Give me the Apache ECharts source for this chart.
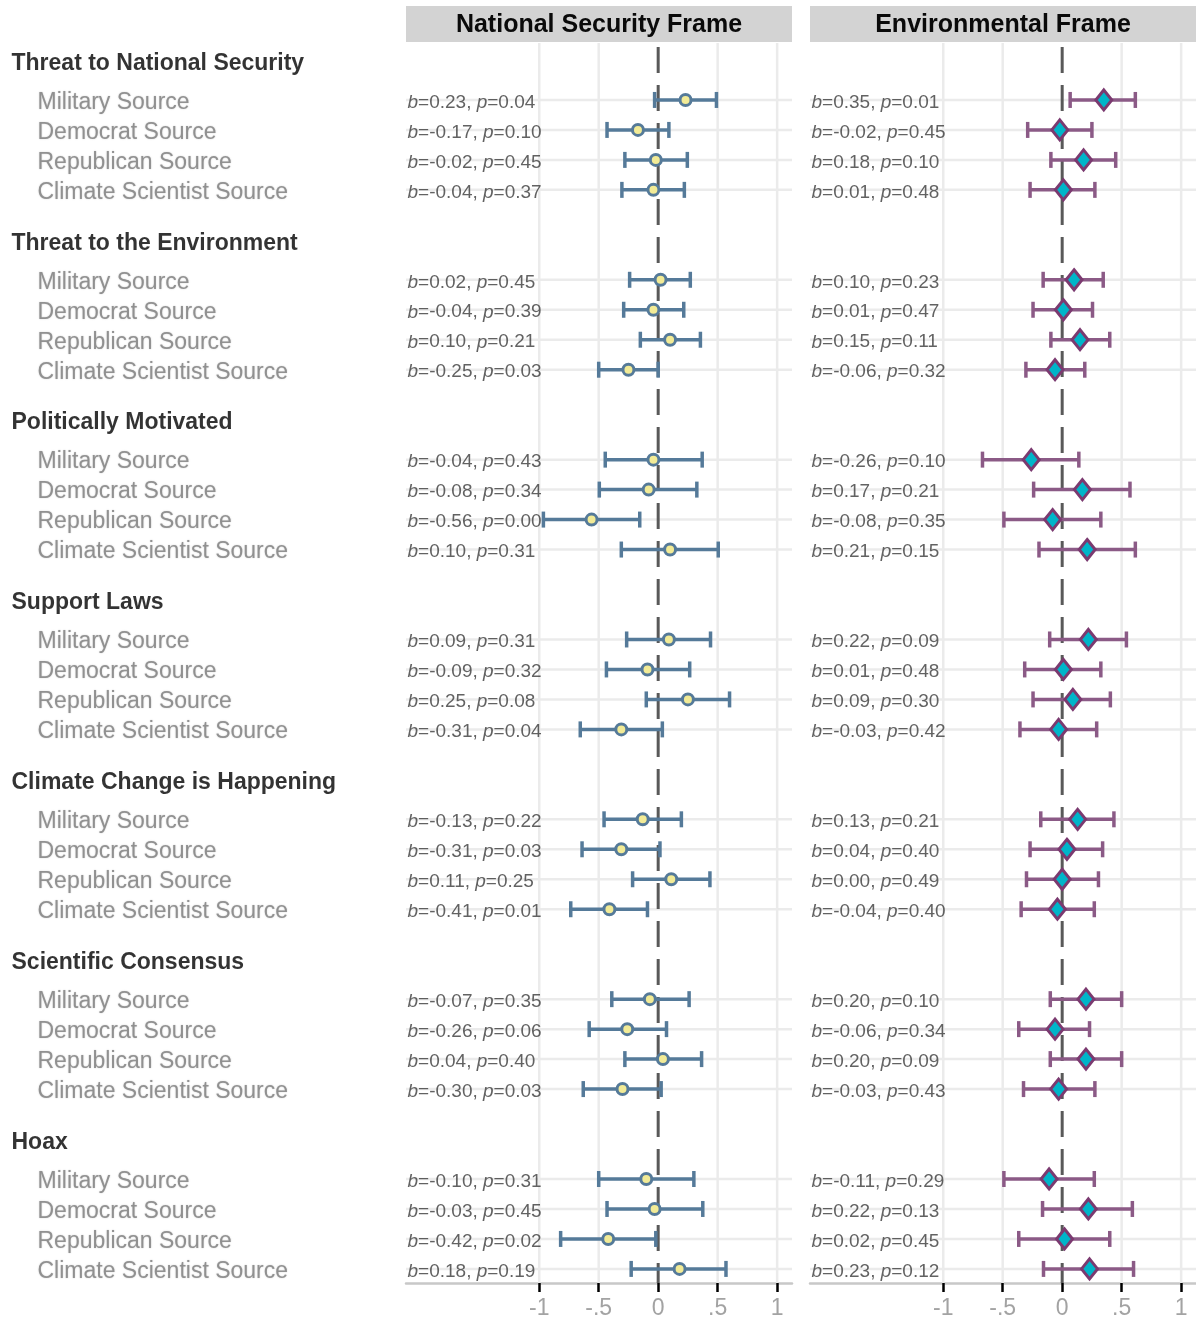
<!DOCTYPE html>
<html><head><meta charset="utf-8">
<script src="https://cdn.jsdelivr.net/npm/echarts@6/dist/echarts.min.js"></script>
<style>html,body{margin:0;padding:0;background:#fff}#c{width:1196px;height:1322px}</style>
</head><body><div id="c"></div><script>
// ---------- data ----------
const frames = ['National Security Frame', 'Environmental Frame'];
const outcomes = ['Threat to National Security', 'Threat to the Environment', 'Politically Motivated',
  'Support Laws', 'Climate Change is Happening', 'Scientific Consensus', 'Hoax'];
const sources = ['Military Source', 'Democrat Source', 'Republican Source', 'Climate Scientist Source'];

// National Security Frame
const natB = [[0.23,-0.17,-0.02,-0.04],[0.02,-0.04,0.10,-0.25],[-0.04,-0.08,-0.56,0.10],[0.09,-0.09,0.25,-0.31],
  [-0.13,-0.31,0.11,-0.41],[-0.07,-0.26,0.04,-0.30],[-0.10,-0.03,-0.42,0.18]];
const natP = [[0.04,0.10,0.45,0.37],[0.45,0.39,0.21,0.03],[0.43,0.34,0.00,0.31],[0.31,0.32,0.08,0.04],
  [0.22,0.03,0.25,0.01],[0.35,0.06,0.40,0.03],[0.31,0.45,0.02,0.19]];
const natLo = [[-0.03,-0.43,-0.28,-0.305],[-0.24,-0.29,-0.15,-0.50],[-0.445,-0.495,-0.965,-0.31],[-0.265,-0.435,-0.10,-0.655],
  [-0.455,-0.64,-0.215,-0.735],[-0.39,-0.58,-0.28,-0.63],[-0.50,-0.43,-0.82,-0.227]];
const natHi = [[0.49,0.09,0.245,0.22],[0.27,0.215,0.355,0.0],[0.37,0.325,-0.155,0.505],[0.44,0.265,0.60,0.035],
  [0.195,0.015,0.435,-0.09],[0.26,0.07,0.365,0.025],[0.30,0.375,-0.02,0.57]];

// Environmental Frame
const envB = [[0.35,-0.02,0.18,0.01],[0.10,0.01,0.15,-0.06],[-0.26,0.17,-0.08,0.21],[0.22,0.01,0.09,-0.03],
  [0.13,0.04,0.00,-0.04],[0.20,-0.06,0.20,-0.03],[-0.11,0.22,0.02,0.23]];
const envP = [[0.01,0.45,0.10,0.48],[0.23,0.47,0.11,0.32],[0.10,0.21,0.35,0.15],[0.09,0.48,0.30,0.42],
  [0.21,0.40,0.49,0.40],[0.10,0.34,0.09,0.43],[0.29,0.13,0.45,0.12]];
const envLo = [[0.067,-0.29,-0.095,-0.27],[-0.16,-0.245,-0.095,-0.305],[-0.67,-0.24,-0.49,-0.195],[-0.105,-0.315,-0.245,-0.355],
  [-0.18,-0.27,-0.30,-0.345],[-0.10,-0.365,-0.10,-0.325],[-0.49,-0.165,-0.365,-0.157]];
const envHi = [[0.615,0.25,0.45,0.275],[0.345,0.255,0.40,0.19],[0.14,0.57,0.325,0.615],[0.54,0.325,0.405,0.29],
  [0.435,0.34,0.305,0.27],[0.50,0.23,0.50,0.275],[0.27,0.59,0.40,0.60]];

const tickValues = [-1, -0.5, 0, 0.5, 1];
const gridXValues = [-1, -0.5, 0.5, 1];

// ---------- layout ----------
const FONT = '"Liberation Sans", Arial, Helvetica, sans-serif';
const XMIN = -2.12, XMAX = 1.125;
const YMIN = -0.9, YMAX = 40.47;
const TOP = 43, HEIGHT = 1240;
const panelLeft = [406, 810], panelW = 386;

const rowSlot = (g, r) => 6 * g + 1 + r;
const allRows = [];
outcomes.forEach((o, g) => sources.forEach((s, r) => allRows.push(rowSlot(g, r))));

function panelData(B, P, LO, HI) {
  const bars = [], pts = [], txt = [];
  outcomes.forEach((o, g) => sources.forEach((s, r) => {
    const y = rowSlot(g, r);
    bars.push([LO[g][r], HI[g][r], y]);
    pts.push([B[g][r], y]);
    txt.push([XMIN, y, B[g][r].toFixed(2), P[g][r].toFixed(2)]);
  }));
  return {bars, pts, txt};
}
const nat = panelData(natB, natP, natLo, natHi);
const env = panelData(envB, envP, envLo, envHi);

function hGridItem(params, api) {
  const cs = params.coordSys;
  const y = api.coord([0, api.value(1)])[1];
  return {type: 'line', silent: true, shape: {x1: cs.x, y1: y, x2: cs.x + cs.width, y2: y},
    style: {stroke: '#ebebeb', lineWidth: 2.5}};
}
function vGridItem(params, api) {
  const cs = params.coordSys;
  const x = api.coord([api.value(0), 0])[0];
  return {type: 'line', silent: true, shape: {x1: x, y1: cs.y, x2: x, y2: cs.y + cs.height},
    style: {stroke: '#ebebeb', lineWidth: 2.5}};
}
function zeroItem(params, api) {
  const cs = params.coordSys;
  const x = api.coord([api.value(0), 0])[0];
  return {type: 'line', silent: true, shape: {x1: x, y1: cs.y + 4, x2: x, y2: cs.y + cs.height},
    style: {stroke: '#595959', lineWidth: 3, lineDash: [26, 12]}};
}
function barRenderer(color) {
  return function (params, api) {
    const a = api.coord([api.value(0), api.value(2)]);
    const b = api.coord([api.value(1), api.value(2)]);
    const h = 8;
    const st = {stroke: color, lineWidth: 3.5};
    return {type: 'group', children: [
      {type: 'line', shape: {x1: a[0], y1: a[1], x2: b[0], y2: b[1]}, style: st},
      {type: 'line', shape: {x1: a[0], y1: a[1] - h, x2: a[0], y2: a[1] + h}, style: st},
      {type: 'line', shape: {x1: b[0], y1: b[1] - h, x2: b[0], y2: b[1] + h}, style: st}
    ]};
  };
}

const grids = [
  {left: 0, top: TOP, width: 406, height: HEIGHT, outerBoundsMode: 'none'},
  {left: panelLeft[0], top: TOP, width: panelW, height: HEIGHT, outerBoundsMode: 'none'},
  {left: panelLeft[1], top: TOP, width: panelW, height: HEIGHT, outerBoundsMode: 'none'}
];
const tickFmt = v => v === 0 ? '0' : (v < 0 ? '-' : '') + String(Math.abs(v)).replace(/^0/, '');
const xAxes = [
  {gridIndex: 0, type: 'value', min: 0, max: 406, show: false},
  ...[1, 2].map(i => ({
    gridIndex: i, type: 'value', min: XMIN, max: XMAX,
    splitLine: {show: false},
    axisLine: {show: true, onZero: false, lineStyle: {color: '#c8c8c8', width: 2.5}},
    axisTick: {show: true, customValues: tickValues, length: 9, lineStyle: {color: '#000', width: 2.5}},
    axisLabel: {show: true, customValues: tickValues, formatter: tickFmt, margin: 14,
      fontSize: 23, color: '#a3a3a3', fontFamily: FONT}
  }))
];
const yAxes = [0, 1, 2].map(i => ({gridIndex: i, type: 'value', min: YMIN, max: YMAX, inverse: true, show: false}));

const series = [];
// left labels
series.push({
  type: 'scatter', xAxisIndex: 0, yAxisIndex: 0, symbolSize: 1, clip: false, silent: true,
  itemStyle: {color: 'transparent'},
  data: outcomes.map((o, g) => [11, 6 * g - 0.22, o]),
  label: {show: true, position: 'right', distance: 0, formatter: p => p.value[2],
    fontFamily: FONT, fontSize: 23, fontWeight: 'bold', color: '#000'}
});
const srcData = [];
outcomes.forEach((o, g) => sources.forEach((s, r) => srcData.push([37, rowSlot(g, r), s])));
series.push({
  type: 'scatter', xAxisIndex: 0, yAxisIndex: 0, symbolSize: 1, clip: false, silent: true,
  itemStyle: {color: 'transparent'},
  data: srcData,
  label: {show: true, position: 'right', distance: 0, offset: [0, 2.5], formatter: p => p.value[2],
    fontFamily: FONT, fontSize: 23, color: '#7f7f7f',
    textShadowColor: 'rgba(140,140,140,0.6)', textShadowBlur: 1.5}
});

const panels = [
  {d: nat, bar: '#557a99', sym: 'circle', size: 11, fill: '#f2eb96', border: '#557a99'},
  {d: env, bar: '#8b5a86', sym: 'diamond', size: [16, 20], fill: '#00b5c9', border: '#7b3a70'}
];
panels.forEach((pn, k) => {
  const ax = k + 1;
  series.push({type: 'custom', xAxisIndex: ax, yAxisIndex: ax, z: 1, silent: true,
    renderItem: hGridItem, data: allRows.map(s => [0, s])});
  series.push({type: 'custom', xAxisIndex: ax, yAxisIndex: ax, z: 1, silent: true,
    renderItem: vGridItem, data: gridXValues.map(v => [v, 0])});
  series.push({type: 'custom', xAxisIndex: ax, yAxisIndex: ax, z: 2, silent: true,
    renderItem: zeroItem, data: [[0, 0]]});
  series.push({
    type: 'scatter', xAxisIndex: ax, yAxisIndex: ax, z: 3, symbolSize: 1, clip: false, silent: true,
    itemStyle: {color: 'transparent'}, data: pn.d.txt,
    label: {show: true, position: 'right', distance: 1, offset: [0, 2.5],
      formatter: p => '{i|b}{n|=' + p.value[2] + ', }{i|p}{n|=' + p.value[3] + '}',
      rich: {
        i: {fontStyle: 'italic', fontFamily: FONT, fontSize: 19, color: '#3b3b3b'},
        n: {fontFamily: FONT, fontSize: 19, color: '#3b3b3b'}
      }}
  });
  series.push({type: 'custom', xAxisIndex: ax, yAxisIndex: ax, z: 4, silent: true,
    renderItem: barRenderer(pn.bar), data: pn.d.bars});
  series.push({type: 'scatter', xAxisIndex: ax, yAxisIndex: ax, z: 5, silent: true,
    symbol: pn.sym, symbolSize: pn.size, data: pn.d.pts,
    itemStyle: {color: pn.fill, borderColor: pn.border, borderWidth: 3, opacity: 1}});
});

const graphic = [];
frames.forEach((f, k) => {
  graphic.push({type: 'rect', left: panelLeft[k], top: 6, shape: {width: panelW, height: 36},
    style: {fill: '#d3d3d3'}, silent: true});
  graphic.push({type: 'text', x: panelLeft[k] + panelW / 2, y: 25, silent: true,
    style: {text: f, align: 'center', verticalAlign: 'middle', fill: '#0a0a0a',
      fontFamily: FONT, fontSize: 25, fontWeight: 'bold'}});
});

const chart = echarts.init(document.getElementById('c'), null, {renderer: 'canvas'});
chart.setOption({
  animation: false,
  backgroundColor: '#ffffff',
  grid: grids, xAxis: xAxes, yAxis: yAxes, series, graphic
});
</script></body></html>
